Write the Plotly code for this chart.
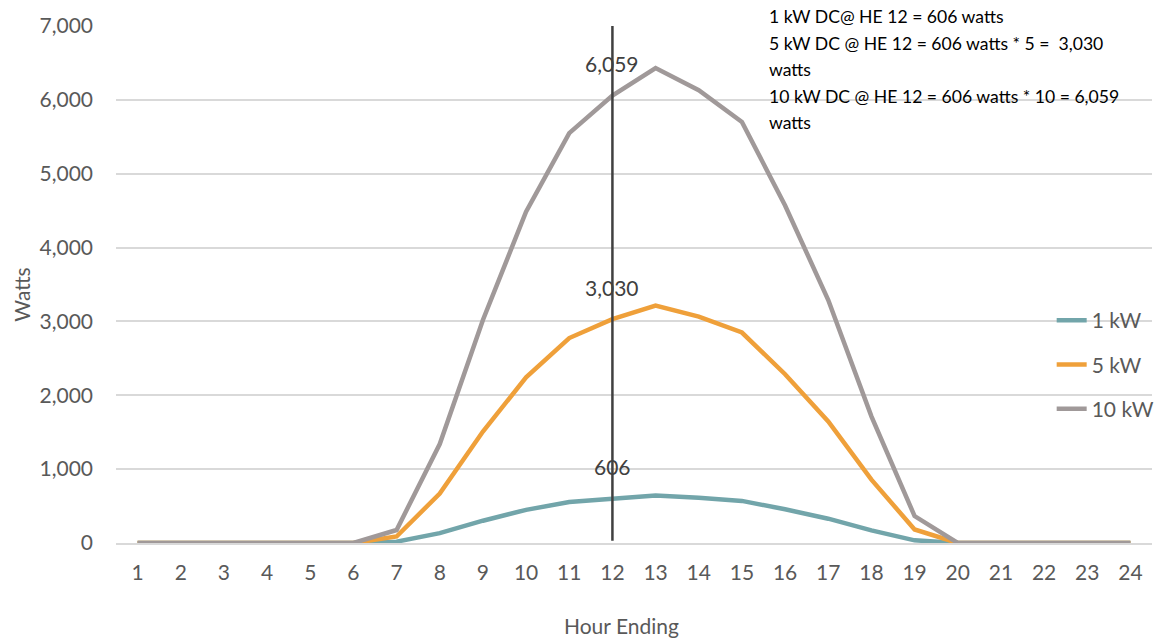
import plotly.graph_objects as go

hours = list(range(1, 25))
kw1 = [0, 0, 0, 0, 0, 0, 18, 134, 302, 449, 555, 606, 643, 613, 570, 457, 329, 171, 36, 0, 0, 0, 0, 0]
kw5 = [0, 0, 0, 0, 0, 0, 88, 670, 1510, 2243, 2775, 3030, 3215, 3065, 2850, 2285, 1645, 857, 183, 0, 0, 0, 0, 0]
kw10 = [0, 0, 0, 0, 0, 0, 176, 1340, 3020, 4485, 5550, 6059, 6430, 6130, 5700, 4570, 3290, 1715, 365, 0, 0, 0, 0, 0]
series_names = ["1 kW", "5 kW", "10 kW"]
series_colors = ["#72A5AA", "#EFA03A", "#A09999"]
marker_hour = 12
marker_labels = ["606", "3,030", "6,059"]
y_ticks = [0, 1000, 2000, 3000, 4000, 5000, 6000, 7000]
note_lines = [
    "1 kW DC@ HE 12 = 606 watts",
    "5 kW DC @ HE 12 = 606 watts * 5 =  3,030",
    "watts",
    "10 kW DC @ HE 12 = 606 watts * 10 = 6,059",
    "watts",
]

FONT = "Lato"
fig = go.Figure()
for name, vals, col in zip(series_names, [kw1, kw5, kw10], series_colors):
    fig.add_trace(go.Scatter(x=hours, y=vals, mode="lines", name=name,
                             line=dict(color=col, width=4.5), legendgroup=name))

# vertical marker line at HE 12
fig.add_trace(go.Scatter(x=[marker_hour, marker_hour], y=[30, y_ticks[-1]], mode="lines",
                         line=dict(color="#404040", width=2.5), showlegend=False,
                         hoverinfo="skip"))

idx = hours.index(marker_hour)
for vals, lab in zip([kw1, kw5, kw10], marker_labels):
    fig.add_annotation(x=marker_hour, y=vals[idx], text=lab, showarrow=False,
                       yshift=32, font=dict(family=FONT, size=21, color="#404040"))

# note text box
for i, line in enumerate(note_lines):
    fig.add_annotation(xref="paper", yref="paper", x=(771 - 116) / 1043, y=(543 - 17) / 517,
                       xanchor="left", yanchor="middle", text=line, showarrow=False,
                       yshift=-26.5 * i, font=dict(family=FONT, size=17.6, color="#000000"))

fig.add_annotation(xref="paper", yref="paper", x=(20 - 116) / 1043, y=(543 - 295) / 517,
                   xanchor="center", yanchor="middle",
                   text="Watts", textangle=-90, showarrow=False,
                   font=dict(family=FONT, size=21, color="#595959"))
fig.add_annotation(xref="paper", yref="paper", x=(625 - 116) / 1043, y=(543 - 625) / 517,
                   xanchor="center", yanchor="middle",
                   text="Hour Ending", showarrow=False,
                   font=dict(family=FONT, size=21, color="#595959"))

fig.update_layout(
    width=1159, height=638,
    margin=dict(l=116, r=0, t=26, b=95),
    paper_bgcolor="white", plot_bgcolor="white",
    font=dict(family=FONT, size=21, color="#595959"),
    legend=dict(x=(1058 - 116) / 1043, y=(543 - 300) / 517, xanchor="left", yanchor="top",
                bgcolor="rgba(0,0,0,0)", font=dict(family=FONT, size=21, color="#595959"),
                tracegroupgap=14),
    showlegend=True,
)
fig.update_xaxes(range=[0.5, 24.5], tickmode="array", tickvals=hours,
                 ticktext=[str(h) for h in hours], showgrid=False, zeroline=False,
                 showline=True, linecolor="#D9D9D9", linewidth=1.5, ticks="",
                 ticklabelstandoff=10)
fig.update_yaxes(range=[0, 7000], tickvals=y_ticks, tickformat=",", showgrid=True,
                 gridcolor="#D9D9D9", gridwidth=1.5, zeroline=False, ticks="",
                 ticklabelstandoff=22)

fig.write_html("out.html")
